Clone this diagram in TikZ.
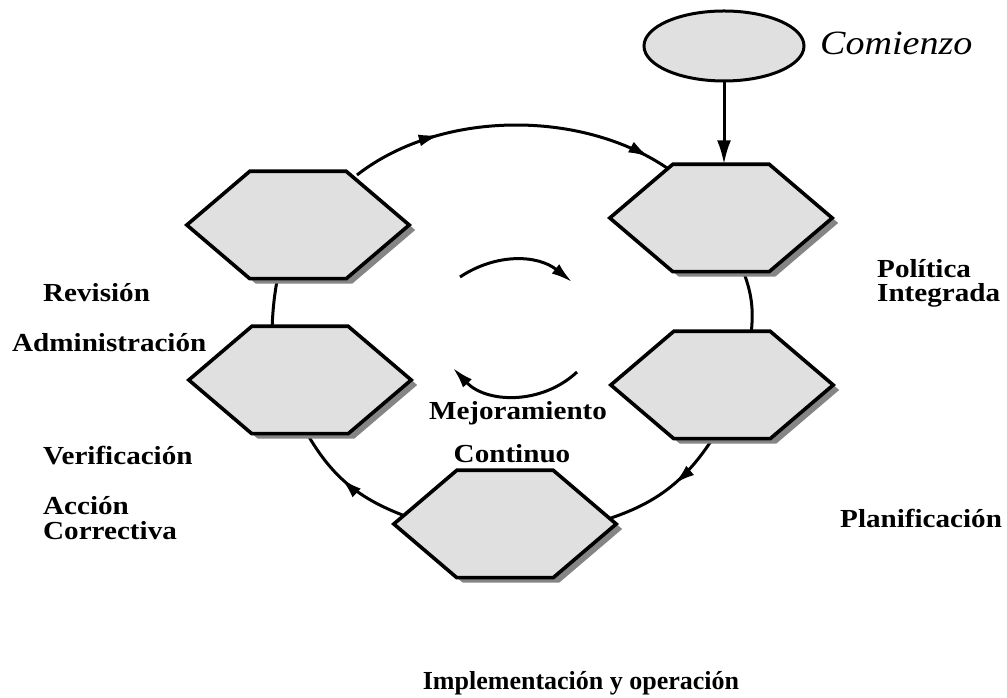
\documentclass[tikz,border=0pt]{standalone}
\usepackage{fontspec}
\newfontfamily\lblfont{Liberation Serif}[FakeStretch=1.12]
\newfontfamily\basefont{Liberation Serif}
\usetikzlibrary{arrows.meta,decorations.markings,shapes.geometric}
\definecolor{hexgray}{HTML}{E0E0E0}
\definecolor{shadowgray}{HTML}{858585}
\tikzset{
  cyctip/.tip={Latex[length=21pt,width=12pt]},
  hexnode/.style={shape=rectangle, minimum width=222pt, minimum height=107pt, inner sep=0pt, draw=none},
  link/.style={line width=3pt},
  hexbody/.style={fill=hexgray, draw=black, line width=3.6pt, line join=miter},
  hexshadow/.style={fill=shadowgray, transform canvas={xshift=6pt,yshift=-5pt}},
  lbl/.style={font=\lblfont\bfseries\fontsize{26}{28}\selectfont, anchor=base west, inner sep=0pt},
  markat/.style={decoration={markings, mark=at position #1 with {\arrow{cyctip}}}, postaction={decorate}},
}
% hexagon drawn around the frame of a named node
\newcommand\hexpath[1]{(#1.west) -- ([xshift=63pt]#1.north west) -- ([xshift=-63pt]#1.north east) -- (#1.east) -- ([xshift=-63pt]#1.south east) -- ([xshift=63pt]#1.south west) -- cycle}
\newcommand\drawhex[1]{\fill[hexshadow] \hexpath{#1}; \filldraw[hexbody] \hexpath{#1};}
\begin{document}
\begin{tikzpicture}[x=1pt,y=1pt]
\path[use as bounding box] (0,0) rectangle (1007,698);

% stage frames
\node[hexnode] (h1) at (298,473) {};
\node[hexnode] (h2) at (721,480) {};
\node[hexnode] (h3) at (300,318) {};
\node[hexnode] (h4) at (722,313) {};
\node[hexnode] (h5) at (505,174) {};

% cycle connectors
\draw[link, decoration={markings, mark=at position 0.27 with {\arrow{cyctip}}, mark=at position 0.9 with {\arrow{cyctip}}}, postaction={decorate}]
  ([shift={(59,50)}]h1.center) to[out=38,in=142,looseness=0.87] ([shift={(-43,42)}]h2.center);
\draw[link] ([shift={(-20,-50)}]h1.center) to[bend right=4] ([shift={(-28,50)}]h3.center);
\draw[link] ([shift={(21,-50)}]h2.center) to[bend left=14] ([shift={(29,50)}]h4.center);
\draw[link, markat=0.45] ([shift={(-7,-50)}]h4.center) to[bend left=20] ([shift={(100,4)}]h5.center);
\draw[link, markat=0.55] ([shift={(-100,8)}]h5.center) to[bend left=20] ([shift={(5,-50)}]h3.center);

% stages
\drawhex{h1}
\drawhex{h2}
\drawhex{h3}
\drawhex{h4}
\drawhex{h5}

% start
\node[ellipse, draw=black, line width=3pt, fill=hexgray, minimum width=160pt, minimum height=70pt, inner sep=0pt] (start) at (724,652) {};
\node[anchor=base west, inner sep=0pt, font=\lblfont\itshape\fontsize{34}{36}\selectfont] (startlbl) at (820,643) {Comienzo};
\draw[link, -{Latex[length=24pt,width=14pt]}] (start.south) -- (start.south |- h2.north);

% continuous improvement
\coordinate (ta) at (460,421);
\coordinate (tb) at (572,416);
\draw[link, -{cyctip}] (ta) to[bend left=36] (tb);
\coordinate (ba) at (577,326);
\coordinate (bb) at (453,330);
\draw[link, -{cyctip}] (ba) to[bend left=45] (bb);

% labels
\node[lbl] (l1) at (43,396) {Revisión};
\node[lbl] (l2) at (12,346) {Administración};
\node[lbl] (l3) at (877,420) {Política};
\node[lbl] (l4) at (877,396) {Integrada};
\node[lbl] (l5) at (43,233) {Verificación};
\node[lbl] (l6) at (43,183) {Acción};
\node[lbl] (l7) at (43,158) {Correctiva};
\node[lbl] (l8) at (840,170) {Planificación};
\node[lbl, anchor=base] (l9) at (518,278) {Mejoramiento};
\node[lbl, anchor=base] (l10) at (512,235) {Continuo};
\node[lbl, anchor=base, font=\basefont\bfseries\fontsize{26}{28}\selectfont] (l11) at (581,8) {Implementación y operación};
\end{tikzpicture}
\end{document}
